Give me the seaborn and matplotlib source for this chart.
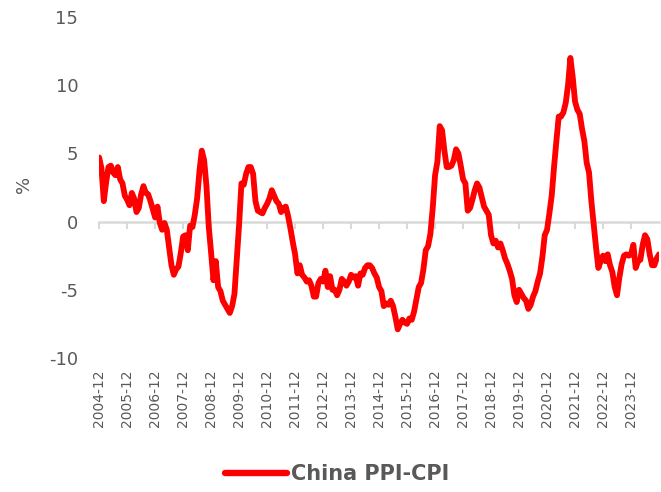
import numpy as np
import pandas as pd
import matplotlib
matplotlib.use("Agg")
import matplotlib.pyplot as plt
import seaborn as sns

# Monthly China PPI minus CPI spread (%), Dec 2004 - Dec 2024
start_month = "2004-12"
end_month = "2024-12"
spread_2004 = [4.7]
spread_2005 = [3.9, 1.5, 2.9, 4.0, 4.1, 3.6, 3.4, 4.0, 3.1, 2.8, 1.9, 1.6]
spread_2006 = [1.2, 2.1, 1.7, 0.7, 1.0, 2.0, 2.6, 2.1, 2.0, 1.5, 0.9, 0.3]
spread_2007 = [1.1, -0.1, -0.6, -0.1, -0.6, -1.9, -3.2, -3.9, -3.5, -3.3, -2.3, -1.1]
spread_2008 = [-1.0, -2.1, -0.3, -0.4, 0.5, 1.7, 3.7, 5.2, 4.5, 2.6, -0.4, -2.3]
spread_2009 = [-4.3, -2.9, -4.8, -5.1, -5.8, -6.1, -6.4, -6.7, -6.2, -5.3, -2.7, -0.2]
spread_2010 = [2.8, 2.7, 3.5, 4.0, 4.0, 3.5, 1.5, 0.8, 0.7, 0.6, 1.0, 1.3]
spread_2011 = [1.7, 2.3, 1.9, 1.5, 1.3, 0.7, 1.0, 1.1, 0.4, -0.5, -1.5, -2.4]
spread_2012 = [-3.8, -3.2, -3.9, -4.1, -4.4, -4.3, -4.7, -5.5, -5.5, -4.5, -4.2, -4.4]
spread_2013 = [-3.6, -4.8, -4.0, -5.0, -5.0, -5.4, -5.0, -4.2, -4.4, -4.7, -4.4, -3.9]
spread_2014 = [-4.1, -4.0, -4.7, -3.8, -3.9, -3.4, -3.2, -3.2, -3.4, -3.8, -4.1, -4.8]
spread_2015 = [-5.1, -6.2, -6.0, -6.1, -5.8, -6.2, -7.0, -7.9, -7.5, -7.2, -7.4, -7.5]
spread_2016 = [-7.1, -7.2, -6.6, -5.7, -4.8, -4.5, -3.5, -2.1, -1.8, -0.9, 1.0, 3.4]
spread_2017 = [4.4, 7.0, 6.7, 5.2, 4.0, 4.0, 4.1, 4.5, 5.3, 5.0, 4.1, 3.1]
spread_2018 = [2.8, 0.8, 1.0, 1.6, 2.3, 2.8, 2.5, 1.8, 1.1, 0.8, 0.5, -1.0]
spread_2019 = [-1.6, -1.4, -1.9, -1.6, -2.1, -2.7, -3.1, -3.6, -4.2, -5.4, -5.9, -5.0]
spread_2020 = [-5.3, -5.6, -5.8, -6.4, -6.1, -5.5, -5.1, -4.4, -3.8, -2.6, -1.0, -0.6]
spread_2021 = [0.6, 1.9, 4.0, 5.9, 7.7, 7.7, 8.0, 8.7, 10.0, 12.0, 10.6, 8.8]
spread_2022 = [8.2, 7.9, 6.8, 5.9, 4.3, 3.6, 1.5, -0.2, -1.9, -3.4, -2.9, -2.5]
spread_2023 = [-2.9, -2.4, -3.2, -3.7, -4.8, -5.4, -4.1, -3.1, -2.5, -2.4, -2.5, -2.4]
spread_2024 = [-1.7, -3.4, -2.9, -2.8, -1.7, -1.0, -1.3, -2.4, -3.2, -3.2, -2.7, -2.4]

series_name = "China PPI-CPI"
y_ticks = [-10, -5, 0, 5, 10, 15]

values = (spread_2004 + spread_2005 + spread_2006 + spread_2007 + spread_2008
          + spread_2009 + spread_2010 + spread_2011 + spread_2012 + spread_2013
          + spread_2014 + spread_2015 + spread_2016 + spread_2017 + spread_2018
          + spread_2019 + spread_2020 + spread_2021 + spread_2022 + spread_2023
          + spread_2024)
months = pd.period_range(start_month, end_month, freq="M").strftime("%Y-%m")
df = pd.DataFrame({"idx": np.arange(len(values)), "month": months, "value": values})

sns.set_theme(style="white")
plt.rcParams["font.family"] = ["DejaVu Sans"]
grey = "#595959"

fig = plt.figure(figsize=(6.61, 4.92), dpi=100)
ax = fig.add_axes([0.150, 0.2724, 0.847, 0.693])

sns.lineplot(data=df, x="idx", y="value", ax=ax, color="#FF0000",
             linewidth=4.2, label=series_name, legend=False)

ax.set_ylim(-10, 15)
ax.set_xlim(0, len(values) - 1)
ax.set_yticks(y_ticks)
ax.set_yticklabels([str(v) for v in y_ticks], color=grey, fontsize=13)
ax.tick_params(axis="y", length=0, pad=15)

year_idx = df["idx"][df["month"].str.endswith("-12")].to_numpy()
year_idx = year_idx[year_idx < len(values) - 1]
ax.set_xticks(year_idx)
ax.set_xticklabels(df["month"].iloc[year_idx], rotation=90, color=grey,
                   fontsize=10)
ax.tick_params(axis="x", length=0, pad=8)

for side in ["top", "right", "left", "bottom"]:
    ax.spines[side].set_visible(False)

# zero line carrying the yearly tick marks
zero_axis = ax.secondary_xaxis(0.4)
zero_axis.set_xticks(year_idx)
zero_axis.set_xticklabels([])
zero_axis.tick_params(axis="x", length=5, width=1.5, color="#D9D9D9",
                      direction="out")
zero_axis.spines["bottom"].set_color("#D9D9D9")
zero_axis.spines["bottom"].set_linewidth(1.8)
zero_axis.set_zorder(0)
ax.set_xlabel("")
ax.set_ylabel("%", color=grey, fontsize=13)
ax.yaxis.set_label_coords(-0.118, 0.51)

handles, labels = ax.get_legend_handles_labels()
leg = fig.legend(handles, labels, loc="center", bbox_to_anchor=(0.51, 0.037),
                 frameon=False, handlelength=3.0, handletextpad=0.2,
                 prop={"size": 15, "weight": "bold"})
for line in leg.get_lines():
    line.set_linewidth(4.6)
for t in leg.get_texts():
    t.set_color(grey)

fig.savefig("out.png", dpi=100)
